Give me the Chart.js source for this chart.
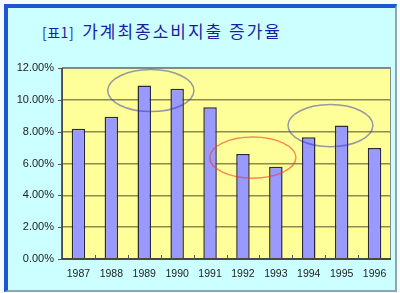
<!DOCTYPE html>
<html>
<head>
<meta charset="utf-8">
<script src="https://cdn.jsdelivr.net/npm/chart.js@4.4.1/dist/chart.umd.min.js"></script>
<style>
  html, body { margin: 0; padding: 0; background: #ffffff; }
  #wrap { position: relative; width: 400px; height: 293px; overflow: hidden; background: #f4fbfb; }
  #frame { position: absolute; left: 4px; top: 4px; width: 387px; height: 282px;
           background: #ccffff; border-top: 4px solid #1d55d6; border-left: 4px solid #1d55d6;
           border-right: 2px solid #8fa3b0; border-bottom: 2px solid #8fa3b0; }
  #title { position: absolute; left: 42px; top: 18px; color: #1d1d9e; white-space: nowrap;
           font-family: "Noto Sans CJK KR", sans-serif; }
  #title .b { font-size: 14px; letter-spacing: 0.5px; }
  #title .t { font-size: 17px; letter-spacing: 2px; margin-left: 8px; }
  canvas { position: absolute; left: 0; top: 0; }
</style>
</head>
<body>
<div id="wrap">
  <div id="frame"></div>
  <div id="title"><span class="b">[표1]</span><span class="t">가계최종소비지출 증가율</span></div>
  <canvas id="c" width="400" height="293"></canvas>
</div>
<script>
// ---- data ----
const categories = ["1987","1988","1989","1990","1991","1992","1993","1994","1995","1996"];
const growthRates = [8.18, 8.93, 10.90, 10.69, 9.53, 6.60, 5.80, 7.65, 8.38, 6.98];
const yTickMax = 12;
const yTickStep = 2;
// highlight ellipses in data units: [center category index, center value, x radius (categories), y radius (value)]
const ellipseCenterIdx = [2.2, 5.3, 7.66];
const ellipseCenterVal = [10.58, 6.37, 8.38];
const ellipseRadiusIdx = [1.31, 1.31, 1.29];
const ellipseRadiusVal = [1.32, 1.29, 1.32];
const ellipseColors = ["rgba(50,50,170,0.5)", "rgba(235,60,40,0.6)", "rgba(50,50,170,0.5)"];

const plotBg = {
  id: 'plotBg',
  beforeDraw(chart) {
    const {ctx, chartArea: a} = chart;
    ctx.save();
    ctx.fillStyle = '#ffff99';
    ctx.fillRect(a.left, a.top, a.right - a.left, a.bottom - a.top);
    ctx.restore();
  },
  afterDatasetsDraw(chart) {
    const {ctx, chartArea: a, scales} = chart;
    const x = scales.x, y = scales.y;
    const step = x.getPixelForValue(1) - x.getPixelForValue(0);
    ctx.save();
    // plot border
    ctx.strokeStyle = '#8a8a8a';
    ctx.lineWidth = 1;
    ctx.strokeRect(a.left + 0.5, a.top + 0.5, a.right - a.left - 1, a.bottom - a.top);
    // axis lines
    ctx.strokeStyle = '#333333';
    ctx.lineWidth = 1.5;
    ctx.beginPath();
    ctx.moveTo(a.left, a.top); ctx.lineTo(a.left, a.bottom);
    ctx.lineTo(a.right, a.bottom);
    ctx.stroke();
    // x tick marks (inside) at category boundaries
    ctx.lineWidth = 1;
    ctx.strokeStyle = '#555555';
    for (let i = 1; i < categories.length; i++) {
      const px = Math.round(x.getPixelForValue(i) - step / 2) + 0.5;
      ctx.beginPath(); ctx.moveTo(px, a.bottom); ctx.lineTo(px, a.bottom - 4); ctx.stroke();
    }
    // y tick marks (outside)
    for (let v = 0; v <= yTickMax; v += yTickStep) {
      const py = Math.round(y.getPixelForValue(v)) + 0.5;
      ctx.beginPath(); ctx.moveTo(a.left - 4, py); ctx.lineTo(a.left, py); ctx.stroke();
    }
    // ellipses
    ctx.lineWidth = 1.5;
    for (let i = 0; i < ellipseCenterIdx.length; i++) {
      const cx = x.getPixelForValue(ellipseCenterIdx[i]);
      const cy = y.getPixelForValue(ellipseCenterVal[i]);
      const rx = ellipseRadiusIdx[i] * step;
      const ry = Math.abs(y.getPixelForValue(0) - y.getPixelForValue(ellipseRadiusVal[i]));
      ctx.strokeStyle = ellipseColors[i];
      ctx.beginPath();
      ctx.ellipse(cx, cy, rx, ry, 0, 0, Math.PI * 2);
      ctx.stroke();
    }
    ctx.restore();
  }
};

new Chart(document.getElementById('c'), {
  type: 'bar',
  data: {
    labels: categories,
    datasets: [{
      data: growthRates,
      backgroundColor: '#9999ff',
      borderColor: '#2a2a3a',
      borderWidth: 1.5,
      borderSkipped: 'bottom',
      barPercentage: 0.41,
      categoryPercentage: 1.0
    }]
  },
  options: {
    responsive: false,
    animation: false,
    devicePixelRatio: 1,
    layout: { padding: { left: 0, top: 68, right: 9, bottom: 0 } },
    plugins: { legend: { display: false }, tooltip: { enabled: false }, title: { display: false } },
    scales: {
      x: {
        offset: true,
        grid: { display: false, drawTicks: false },
        border: { display: false },
        ticks: { color: '#222222', padding: 9, font: { family: 'Liberation Sans', size: 10.5 }, maxRotation: 0, autoSkip: false },
        afterFit(s) { s.height = 34; }
      },
      y: {
        min: 0, max: yTickMax,
        grid: { color: '#8c8c50', lineWidth: 1.5, drawTicks: false },
        border: { display: false },
        ticks: { stepSize: yTickStep, color: '#222222', padding: 8,
                 font: { family: 'Liberation Sans', size: 11 },
                 callback: v => v.toFixed(2) + '%' },
        afterFit(s) { s.width = 62; }
      }
    }
  },
  plugins: [plotBg]
});
</script>
</body>
</html>
